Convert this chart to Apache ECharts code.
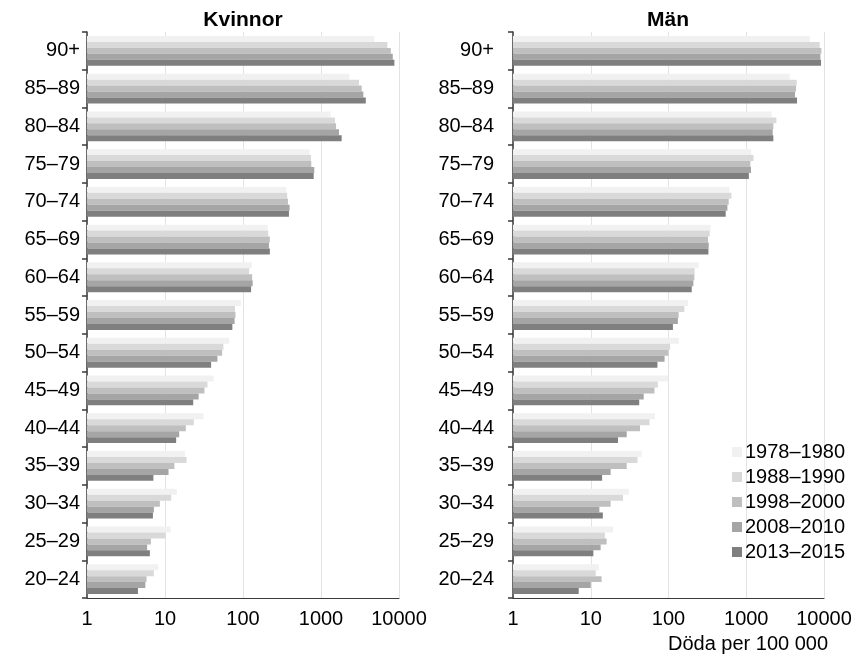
<!DOCTYPE html>
<html>
<head>
<meta charset="utf-8">
<script src="https://cdn.jsdelivr.net/npm/echarts@6/dist/echarts.min.js"></script>
<style>
  html, body { margin: 0; padding: 0; background: #ffffff; }
  #chart { width: 855px; height: 660px; }
</style>
</head>
<body>
<div id="chart"></div>
<script>
// Age groups, oldest first (drawn top to bottom)
const ageGroups = ['90+', '85–89', '80–84', '75–79', '70–74', '65–69', '60–64',
  '55–59', '50–54', '45–49', '40–44', '35–39', '30–34', '25–29', '20–24'];

// Periods and their fill colours
const periods = ['1978–1980', '1988–1990', '1998–2000', '2008–2010', '2013–2015'];
const periodColors = ['#f1f1f1', '#d9d9d9', '#bfbfbf', '#a5a5a5', '#7f7f7f'];

// Axis tick labels
const xTicks = ['1', '10', '100', '1000', '10000'];

// Deaths per 100 000, women — one array per period, ordered as ageGroups
const women1978 = [4830, 2310, 1330, 716, 359, 207, 129, 94, 66.5, 42, 31, 18, 14.2, 11.8, 8.2];
const women1988 = [7100, 3070, 1510, 744, 369, 211, 120, 79, 56, 35, 23.4, 18.9, 12, 10.1, 7.2];
const women1998 = [7850, 3330, 1560, 751, 377, 221, 131, 80, 54, 32, 18.5, 13.2, 8.6, 6.6, 5.8];
const women2008 = [8320, 3490, 1700, 820, 396, 215, 133, 78, 47, 27, 15.2, 11.1, 7.2, 5.9, 5.6];
const women2013 = [8730, 3750, 1840, 806, 388, 221, 127, 73, 39, 23, 13.9, 7.1, 7.0, 6.4, 4.5];

// Deaths per 100 000, men
const men1978 = [6550, 3620, 2120, 1160, 607, 349, 244, 178, 136, 99, 67, 45, 31, 19.3, 12.7];
const men1988 = [8810, 4460, 2440, 1240, 644, 339, 217, 160, 105, 73, 57, 40, 26, 15.2, 11.6];
const men1998 = [9250, 4370, 2230, 1130, 595, 322, 215, 135, 100, 66, 43, 29, 18, 16, 13.8];
const men2008 = [8990, 4240, 2190, 1150, 572, 329, 209, 132, 89, 48, 29, 18, 12.9, 13.4, 10];
const men2013 = [9160, 4500, 2230, 1080, 544, 326, 199, 114, 72, 42, 22.4, 14, 14.3, 10.8, 7.0];

const womenData = [women1978, women1988, women1998, women2008, women2013];
const menData = [men1978, men1988, men1998, men2008, men2013];

const FONT = '"Liberation Sans", Arial, sans-serif';
const FS = 20;
const axisColor = '#3a3a3a';

function makeXAxis(gridIndex) {
  return {
    type: 'log',
    logBase: 10,
    min: 1,
    max: 10000,
    gridIndex: gridIndex,
    axisLine: { show: true, lineStyle: { color: axisColor, width: 1 } },
    axisTick: { show: false },
    axisLabel: {
      color: '#000', fontSize: FS, fontFamily: FONT, margin: 11,
      formatter: function (v) { return xTicks[Math.round(Math.log10(v))]; }
    },
    splitLine: { show: true, lineStyle: { color: '#e3e3e3', width: 1 } }
  };
}

function makeYAxis(gridIndex, margin) {
  return {
    type: 'category',
    data: ageGroups,
    inverse: true,
    gridIndex: gridIndex,
    axisLine: { show: true, lineStyle: { color: axisColor, width: 1.5 } },
    axisTick: { show: true, length: 5, lineStyle: { color: axisColor, width: 1.5 } },
    axisLabel: { color: '#000', fontSize: FS, fontFamily: FONT, margin: margin }
  };
}

function makeSeries(dataSets, axisIndex) {
  return periods.map(function (name, i) {
    return {
      name: name,
      type: 'bar',
      xAxisIndex: axisIndex,
      yAxisIndex: axisIndex,
      data: dataSets[i],
      barGap: '0%',
      barCategoryGap: '21%',
      itemStyle: { color: periodColors[i] },
      emphasis: { disabled: true },
      animation: false
    };
  });
}

const chart = echarts.init(document.getElementById('chart'), null, { renderer: 'canvas' });

chart.setOption({
  backgroundColor: '#ffffff',
  animation: false,
  textStyle: { fontFamily: FONT },
  grid: [
    { left: 87, width: 312, top: 32, bottom: 62 },
    { left: 513, width: 311, top: 32, bottom: 62 }
  ],
  xAxis: [makeXAxis(0), makeXAxis(1)],
  yAxis: [makeYAxis(0, 7), makeYAxis(1, 19)],
  legend: {
    data: periods,
    orient: 'vertical',
    left: 727,
    top: 437,
    icon: 'rect',
    itemWidth: 10,
    itemHeight: 10,
    itemGap: 5,
    selectedMode: false,
    textStyle: { color: '#000', fontSize: FS, fontFamily: FONT, padding: [0, 0, 0, -2] }
  },
  graphic: [
    {
      type: 'text', x: 243, y: 10,
      style: { text: 'Kvinnor', fill: '#000', font: 'bold 21px ' + FONT, textAlign: 'center' }
    },
    {
      type: 'text', x: 668, y: 10,
      style: { text: 'Män', fill: '#000', font: 'bold 21px ' + FONT, textAlign: 'center' }
    },
    {
      type: 'text', x: 748, y: 634,
      style: { text: 'Döda per 100 000', fill: '#000', font: FS + 'px ' + FONT, textAlign: 'center' }
    }
  ],
  series: makeSeries(womenData, 0).concat(makeSeries(menData, 1))
});
</script>
</body>
</html>
